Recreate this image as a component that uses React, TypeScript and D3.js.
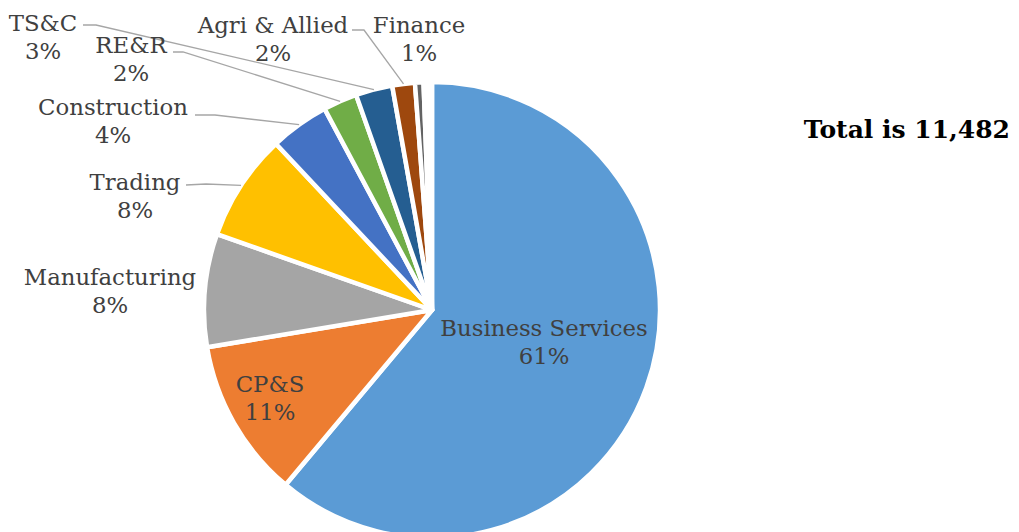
import * as d3 from 'd3';

// sector counts (total 11,482)
const categories = [
  'Business Services',
  'CP&S',
  'Manufacturing',
  'Trading',
  'Construction',
  'RE&R',
  'TS&C',
  'Agri & Allied',
  'Finance',
  'Other 1',
  'Other 2',
];
const counts = [7015, 1297, 919, 873, 482, 276, 299, 184, 69, 34, 34];
const colors = [
  '#5B9BD5', '#ED7D31', '#A5A5A5', '#FFC000', '#4472C4', '#70AD47',
  '#255E91', '#9E480E', '#636363', '#997300', '#264478',
];
const totalLabel = 'Total is 11,482';

const W = 1019;
const H = 532;
const cx = 432;
const cy = 310;
const R = 228;

// where Excel put each data label: centre x, baseline of first line, optional leader start
type LabelSpot = { x: number; y: number; lead?: [number, number][] };
const labelSpots: Record<string, LabelSpot> = {
  'Business Services': { x: 544, y: 336 },
  'CP&S': { x: 270, y: 392 },
  Manufacturing: { x: 110, y: 285 },
  Trading: { x: 135, y: 190, lead: [[186, 185], [206, 184]] },
  Construction: { x: 113, y: 115, lead: [[195, 115], [215, 115]] },
  'RE&R': { x: 131, y: 53, lead: [[173, 52], [183, 52]] },
  'TS&C': { x: 43, y: 31, lead: [[83, 25], [96, 25]] },
  'Agri & Allied': { x: 273, y: 33, lead: [[352, 30], [364, 30]] },
  Finance: { x: 419, y: 33 },
};

export default function App() {
  const total = d3.sum(counts);
  const pie = d3
    .pie<number>()
    .sort(null)
    .value((d) => d)
    .startAngle(0)
    .endAngle(2 * Math.PI);
  const arcs = pie(counts);
  const arc = d3.arc<d3.PieArcDatum<number>>().innerRadius(0).outerRadius(R);
  const fmt = (v: number) => `${Math.round((v / total) * 100)}%`;

  return (
    <div style={{ position: 'absolute', left: 0, top: 0 }}>
      <svg width={W} height={H} style={{ display: 'block' }}>
        <rect width={W} height={H} fill="#fff" />
        <g transform={`translate(${cx},${cy})`}>
          {arcs.map((a, i) => (
            <path
              key={categories[i]}
              d={arc(a) || ''}
              fill={colors[i]}
              stroke="#fff"
              strokeWidth={4.5}
              strokeLinejoin="round"
            />
          ))}
        </g>
        {arcs.map((a, i) => {
          const spot = labelSpots[categories[i]];
          if (!spot || !spot.lead) return null;
          const mid = (a.startAngle + a.endAngle) / 2;
          const ex = cx + R * Math.sin(mid);
          const ey = cy - R * Math.cos(mid);
          const pts = [...spot.lead, [ex, ey]];
          return (
            <path
              key={'lead' + i}
              d={d3.line()(pts as [number, number][]) || ''}
              fill="none"
              stroke="#A6A6A6"
              strokeWidth={1.3}
            />
          );
        })}
        {arcs.map((a, i) => {
          const spot = labelSpots[categories[i]];
          if (!spot) return null;
          return (
            <text
              key={'lbl' + i}
              x={spot.x}
              y={spot.y}
              textAnchor="middle"
              fontFamily="'DejaVu Serif', serif"
              fontSize={22.8}
              fill="#404040"
            >
              <tspan x={spot.x}>{categories[i]}</tspan>
              <tspan x={spot.x} dy={28}>
                {fmt(a.data)}
              </tspan>
            </text>
          );
        })}
        <text
          x={1010}
          y={138}
          textAnchor="end"
          fontFamily="'DejaVu Serif', serif"
          fontWeight="bold"
          fontSize={25}
          fill="#000"
        >
          {totalLabel}
        </text>
      </svg>
    </div>
  );
}
